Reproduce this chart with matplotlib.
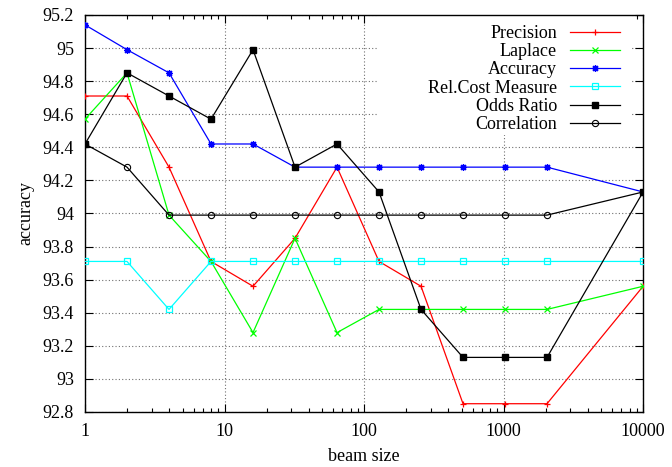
import numpy as np
import matplotlib
matplotlib.use("Agg")
import matplotlib.pyplot as plt
from matplotlib.ticker import FixedLocator, FuncFormatter, LogLocator, NullFormatter
from matplotlib.patches import Rectangle

plt.rcParams['font.family'] = ['Liberation Serif', 'DejaVu Serif']
plt.rcParams['font.size'] = 13

# beam sizes
beam = [1, 2, 4, 8, 16, 32, 64, 128, 256, 512, 1024, 2048, 10000]

precision = [94.71, 94.71, 94.28, 93.71, 93.56, 93.85, 94.28, 93.71, 93.56, 92.85, 92.85, 92.85, 93.56]
laplace = [94.57, 94.85, 93.99, 93.71, 93.28, 93.85, 93.28, 93.42, 93.42, 93.42, 93.42, 93.42, 93.56]
accuracy = [95.14, 94.99, 94.85, 94.42, 94.42, 94.28, 94.28, 94.28, 94.28, 94.28, 94.28, 94.28, 94.13]
relcost = [93.71, 93.71, 93.42, 93.71, 93.71, 93.71, 93.71, 93.71, 93.71, 93.71, 93.71, 93.71, 93.71]
odds = [94.42, 94.85, 94.71, 94.57, 94.99, 94.28, 94.42, 94.13, 93.42, 93.13, 93.13, 93.13, 94.13]
correlation = [94.42, 94.28, 93.99, 93.99, 93.99, 93.99, 93.99, 93.99, 93.99, 93.99, 93.99, 93.99, 94.13]

yticks = [92.8, 93.0, 93.2, 93.4, 93.6, 93.8, 94.0, 94.2, 94.4, 94.6, 94.8, 95.0, 95.2]
xticks = [1, 10, 100, 1000, 10000]

fig = plt.figure(figsize=(6.72, 4.67), dpi=100)
ax = fig.add_axes([0.1265, 0.1178, 0.8305, 0.8502])

lw = 0.9
ax.plot(beam, precision, color='#ff0000', lw=lw, marker='+', ms=5, mew=0.9, label='Precision', zorder=3)
ax.plot(beam, laplace, color='#00ff00', lw=lw, marker='x', ms=4.5, mew=0.9, label='Laplace', zorder=3)
ax.plot(beam, accuracy, color='#0000ff', lw=lw, marker=(8, 2, 0), ms=5, mew=0.9, label='Accuracy', zorder=3)
ax.plot(beam, relcost, color='#00ffff', lw=lw, marker='s', ms=4.5, mfc='none', mew=0.9,
        label='Rel.Cost Measure', zorder=3)
ax.plot(beam, odds, color='black', lw=lw, marker='s', ms=4.3, label='Odds Ratio', zorder=3)
ax.plot(beam, correlation, color='black', lw=lw, marker='o', ms=4.5, mfc='none', mew=0.8,
        label='Correlation', zorder=3)

ax.set_xscale('log')
ax.set_xlim(1, 10000)
ax.set_ylim(92.8, 95.2)
ax.xaxis.set_major_locator(FixedLocator(xticks))
ax.xaxis.set_major_formatter(FuncFormatter(lambda v, p: '%g' % v))
ax.xaxis.set_minor_locator(LogLocator(base=10, subs=np.arange(2, 10)))
ax.xaxis.set_minor_formatter(NullFormatter())
ax.yaxis.set_major_locator(FixedLocator(yticks))
ax.yaxis.set_major_formatter(FuncFormatter(lambda v, p: '%g' % round(v, 1)))

ax.tick_params(which='both', direction='in', top=True, right=True, width=0.8)
ax.tick_params(which='major', length=6, pad=8)
ax.tick_params(which='minor', length=3)

ax.set_axisbelow(True)
ax.grid(True, which='major', linestyle=(0, (1, 2)), color='#707070', lw=0.8)
for s in ax.spines.values():
    s.set_linewidth(1.0)

# blank key area like gnuplot
ax.add_patch(Rectangle((0.523, 0.698), 0.457, 0.302, transform=ax.transAxes,
                       facecolor='white', edgecolor='none', zorder=1))

ax.legend(loc='upper right', bbox_to_anchor=(0.959, 0.975), frameon=False, markerfirst=False,
          borderaxespad=0, borderpad=0, handlelength=2.8, handletextpad=0.7, labelspacing=0.07,
          fontsize=13)

ax.set_xlabel('beam size', labelpad=6)
ax.set_ylabel('accuracy', labelpad=6)

fig.savefig('out.png', dpi=100)
